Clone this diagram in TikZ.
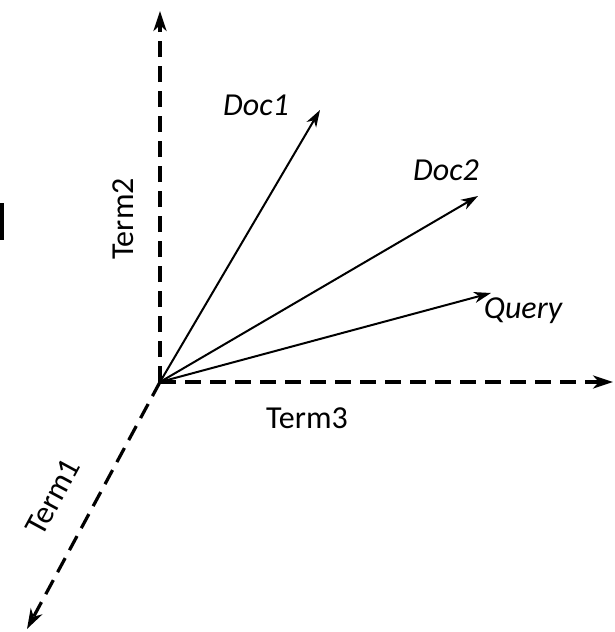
\documentclass[tikz,border=0pt]{standalone}
\usepackage{fontspec}
\setmainfont{Carlito}
\usetikzlibrary{arrows.meta}
\begin{document}
\begin{tikzpicture}[x=1pt,y=-1pt,
  axis/.style={line width=3.2pt,dash pattern=on 16pt off 9pt,-{Stealth[length=20pt,width=13pt,inset=6pt]}},
  vec/.style={line width=2pt,-{Stealth[length=17pt,width=11pt,inset=5pt]}},
  lbl/.style={font=\fontsize{32}{36}\selectfont\itshape,inner sep=0pt,anchor=base},
  albl/.style={font=\fontsize{32}{36}\selectfont,inner sep=0pt}]
\useasboundingbox (0,0) rectangle (614,632);
\fill (0,203) rectangle (4,240);
\coordinate (O) at (160,382);
\coordinate (t2) at (160,11);
\coordinate (t3) at (613,382);
\coordinate (t1) at (27,629);
\coordinate (d1) at (320,110);
\coordinate (d2) at (478,196);
\coordinate (q) at (491,293);
\draw[axis] (O) -- (t2);
\draw[axis] (O) -- (t3);
\draw[axis] (O) -- (t1);
\draw[vec] (O) -- (d1);
\draw[vec] (O) -- (d2);
\draw[vec] (O) -- (q);
\node[lbl] (doc1) at (256,115) {Doc1};
\node[lbl] (doc2) at (446,180) {Doc2};
\node[lbl] (query) at (523,318) {Query};
\node[albl,anchor=base] (term3) at (307,428) {Term3};
\node[albl,rotate=90] (term2) at (123,219) {Term2};
\node[albl,rotate=61.6] (term1) at (53,497) {Term1};
\end{tikzpicture}
\end{document}
